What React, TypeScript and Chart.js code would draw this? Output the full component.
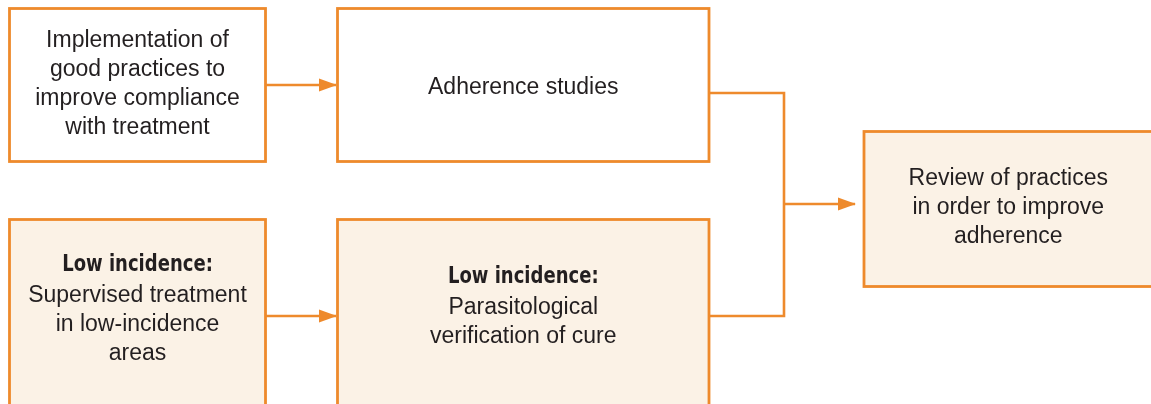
import React, { useEffect, useRef } from 'react';
import { Chart, registerables } from 'chart.js';

Chart.register(...registerables);

// ---- Flowchart data (axis units = 1 unit per px, y downwards) ----
const nodeHeadings: string[] = ['', '', 'Low incidence:', 'Low incidence:', ''];
const nodeLines: string[][] = [
  ['Implementation of', 'good practices to', 'improve compliance', 'with treatment'],
  ['Adherence studies'],
  ['Supervised treatment', 'in low-incidence', 'areas'],
  ['Parasitological', 'verification of cure'],
  ['Review of practices', 'in order to improve', 'adherence'],
];
const nodeLeft: number[] = [9.5, 337.5, 9.5, 337.5, 864];
const nodeRight: number[] = [265.5, 709, 265.5, 709, 1152.5];
const nodeTop: number[] = [8.5, 8.5, 219.5, 219.5, 131.5];
const nodeBottom: number[] = [161.5, 161.5, 440, 440, 286.5];
const nodeFilled: boolean[] = [false, false, true, true, true];
const nodeFirstBaseline: number[] = [46.5, 94, 271, 283, 185];

const connectorX: number[][] = [[265.5, 336], [265.5, 336], [709, 784, 784, 709], [784, 855]];
const connectorY: number[][] = [[85, 85], [316, 316], [93, 93, 316, 316], [204, 204]];
const connectorArrow: boolean[] = [true, true, false, true];

const ORANGE = '#EE8A2C';
const BEIGE = '#FBF2E6';
const TEXT = '#231F20';

export default function App() {
  const ref = useRef<HTMLCanvasElement | null>(null);

  useEffect(() => {
    document.body.style.margin = '0';
    const canvas = ref.current;
    if (!canvas) return;

    const nodesPlugin = {
      id: 'flowNodes',
      beforeDatasetsDraw(chart: any) {
        const { ctx, scales } = chart;
        const xs = scales.x, ys = scales.y;
        ctx.save();
        for (let i = 0; i < nodeLeft.length; i++) {
          const x0 = xs.getPixelForValue(nodeLeft[i]);
          const x1 = xs.getPixelForValue(nodeRight[i]);
          const y0 = ys.getPixelForValue(nodeTop[i]);
          const y1 = ys.getPixelForValue(nodeBottom[i]);
          if (nodeFilled[i]) {
            ctx.fillStyle = BEIGE;
            ctx.fillRect(x0, y0, x1 - x0, y1 - y0);
          }
          ctx.strokeStyle = ORANGE;
          ctx.lineWidth = 2.8;
          ctx.strokeRect(x0, y0, x1 - x0, y1 - y0);
        }
        ctx.restore();
      },
      afterDatasetsDraw(chart: any) {
        const { ctx, scales } = chart;
        const xs = scales.x, ys = scales.y;
        ctx.save();
        // arrowheads
        chart.data.datasets.forEach((ds: any, di: number) => {
          if (!connectorArrow[di]) return;
          const meta = chart.getDatasetMeta(di);
          const pts = meta.data;
          const a = pts[pts.length - 2], b = pts[pts.length - 1];
          const ang = Math.atan2(b.y - a.y, b.x - a.x);
          const len = 18, hw = 6.5;
          ctx.fillStyle = ORANGE;
          ctx.beginPath();
          ctx.moveTo(b.x + 1, b.y);
          ctx.lineTo(b.x + 1 - len * Math.cos(ang) - hw * Math.sin(ang), b.y - len * Math.sin(ang) + hw * Math.cos(ang));
          ctx.lineTo(b.x + 1 - len * Math.cos(ang) + hw * Math.sin(ang), b.y - len * Math.sin(ang) - hw * Math.cos(ang));
          ctx.closePath();
          ctx.fill();
        });
        // text
        ctx.fillStyle = TEXT;
        ctx.textAlign = 'center';
        ctx.textBaseline = 'alphabetic';
        for (let i = 0; i < nodeLines.length; i++) {
          const cx = xs.getPixelForValue((nodeLeft[i] + nodeRight[i]) / 2);
          let y = nodeFirstBaseline[i];
          if (nodeHeadings[i]) {
            ctx.save();
            ctx.font = 'bold 22.5px "DejaVu Sans Condensed", "Liberation Sans Narrow", sans-serif';
            ctx.translate(cx, ys.getPixelForValue(y));
            ctx.scale(0.89, 1);
            ctx.fillText(nodeHeadings[i], 0, 0);
            ctx.restore();
            y += 30.5;
          }
          ctx.font = '23px "Liberation Sans", Arial, sans-serif';
          for (const line of nodeLines[i]) {
            ctx.fillText(line, cx, ys.getPixelForValue(y));
            y += 29.2;
          }
        }
        ctx.restore();
      },
    };

    const chart = new Chart(canvas, {
      type: 'scatter',
      data: {
        datasets: connectorX.map((xsArr, i) => ({
          label: 'c' + i,
          data: xsArr.map((x, j) => ({ x, y: connectorY[i][j] })),
          showLine: true,
          borderColor: ORANGE,
          borderWidth: 2.6,
          pointRadius: 0,
          pointHoverRadius: 0,
          tension: 0,
          fill: false,
        })),
      },
      options: {
        animation: false,
        responsive: false,
        devicePixelRatio: 1,
        layout: { padding: 0 },
        scales: {
          x: { type: 'linear', min: 0, max: 1151, display: false },
          y: { type: 'linear', min: 0, max: 404, reverse: true, display: false },
        },
        plugins: { legend: { display: false }, tooltip: { enabled: false } },
        events: [],
      },
      plugins: [nodesPlugin],
    });
    return () => chart.destroy();
  }, []);

  return (
    <div style={{ width: 1151, height: 404, background: '#ffffff' }}>
      <canvas ref={ref} width={1151} height={404} style={{ display: 'block' }} />
    </div>
  );
}
